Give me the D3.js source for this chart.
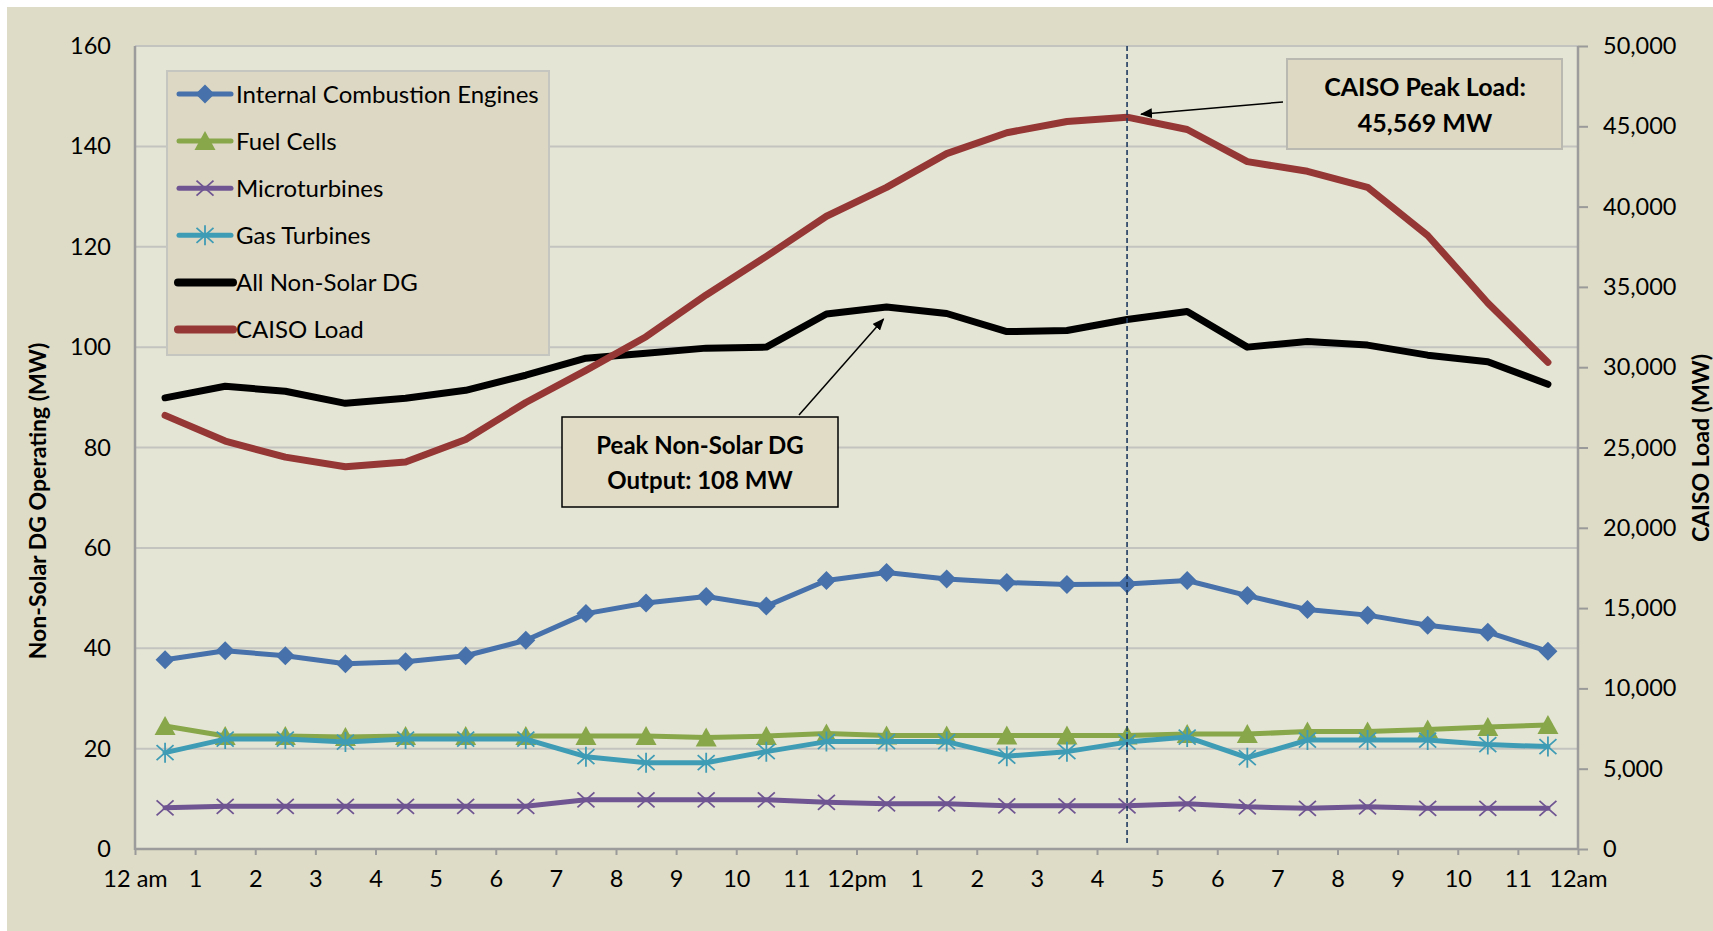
<!DOCTYPE html>
<html>
<head>
<meta charset="utf-8">
<script src="https://cdn.jsdelivr.net/npm/d3@7"></script>
<style>
  html, body { margin: 0; padding: 0; background: #ffffff; }
  svg { display: block; }
  text { font-family: Lato, "Open Sans", sans-serif; fill: #000; }
</style>
</head>
<body>
<svg id="chart" width="1713" height="931"></svg>
<script>
// ---------------- DATA ----------------
const hours = ["1","2","3","4","5","6","7","8","9","10","11","12",
               "13","14","15","16","17","18","19","20","21","22","23","24"];

const iceValues = [37.7, 39.5, 38.5, 36.9, 37.3, 38.5, 41.6, 46.9, 49.0, 50.3, 48.4, 53.5,
                   55.1, 53.8, 53.1, 52.7, 52.8, 53.5, 50.5, 47.7, 46.6, 44.6, 43.2, 39.4];
const fuelCellValues = [24.5, 22.5, 22.5, 22.3, 22.5, 22.5, 22.5, 22.5, 22.5, 22.2, 22.5, 23.0,
                        22.6, 22.6, 22.6, 22.6, 22.6, 22.9, 22.9, 23.4, 23.4, 23.8, 24.3, 24.7];
const microturbineValues = [8.2, 8.5, 8.5, 8.5, 8.5, 8.5, 8.5, 9.8, 9.8, 9.8, 9.8, 9.3,
                            9.0, 9.0, 8.6, 8.6, 8.6, 9.0, 8.4, 8.1, 8.4, 8.1, 8.1, 8.1];
const gasTurbineValues = [19.2, 21.9, 21.9, 21.3, 21.9, 21.9, 21.9, 18.4, 17.2, 17.2, 19.4, 21.4,
                          21.4, 21.4, 18.5, 19.4, 21.3, 22.3, 18.2, 21.7, 21.7, 21.7, 20.8, 20.4];
const allNonSolarValues = [89.9, 92.2, 91.2, 88.8, 89.8, 91.4, 94.4, 97.8, 98.8, 99.8, 100.0, 106.6,
                           108.0, 106.7, 103.1, 103.3, 105.5, 107.1, 100.0, 101.1, 100.4, 98.4, 97.1, 92.6];
const caisoLoadValues = [27000, 25400, 24400, 23800, 24100, 25500, 27800, 29800, 31900, 34500, 36900, 39400,
                         41200, 43300, 44600, 45300, 45569, 44800, 42800, 42200, 41200, 38200, 34000, 30300];

const xTickLabels = ["12 am","1","2","3","4","5","6","7","8","9","10","11","12pm",
                     "1","2","3","4","5","6","7","8","9","10","11","12am"];
const leftTicks = [0, 20, 40, 60, 80, 100, 120, 140, 160];
const rightTicks = [0, 5000, 10000, 15000, 20000, 25000, 30000, 35000, 40000, 45000, 50000];

const seriesNames = ["Internal Combustion Engines", "Fuel Cells", "Microturbines",
                     "Gas Turbines", "All Non-Solar  DG", "CAISO Load"];
const peakHourIndex = 16;   // hour 17 (4-5 pm), CAISO peak
const peakDgIndex = 12;     // hour 13, peak non-solar DG

// ---------------- LAYOUT ----------------
const W = 1713, H = 931;
const plot = { left: 135, right: 1578, top: 46, bottom: 849 };
const tickFont = "23.5px";

const svg = d3.select("#chart");

const x = d3.scaleBand().domain(hours).range([plot.left, plot.right]).padding(0);
const xEdge = d3.scaleLinear().domain([0, hours.length]).range([plot.left, plot.right]);
const yL = d3.scaleLinear().domain([0, 160]).range([plot.bottom, plot.top]);
const yR = d3.scaleLinear().domain([0, 50000]).range([plot.bottom, plot.top]);
const cx = (d, i) => x(hours[i]) + x.bandwidth() / 2;

// backgrounds
svg.append("rect").attr("x", 0).attr("y", 0).attr("width", W).attr("height", H).attr("fill", "#ffffff");
svg.append("rect").attr("x", 7).attr("y", 7).attr("width", W - 7).attr("height", H - 7).attr("fill", "#dedcc6");
svg.append("rect").attr("x", plot.left).attr("y", plot.top)
   .attr("width", plot.right - plot.left).attr("height", plot.bottom - plot.top)
   .attr("fill", "#e5e5d5");

// gridlines
svg.append("g").selectAll("line").data(leftTicks.filter(d => d > 0)).join("line")
  .attr("x1", plot.left).attr("x2", plot.right)
  .attr("y1", d => yL(d)).attr("y2", d => yL(d))
  .attr("stroke", "#c3c3c0").attr("stroke-width", 2);

// left axis
const leftAxis = d3.axisLeft(yL).tickValues(leftTicks).tickSize(0).tickPadding(24);
const gL = svg.append("g").attr("transform", `translate(${plot.left},0)`).call(leftAxis);
gL.select(".domain").remove();
gL.selectAll("text").style("font-size", tickFont).style("font-family", "Lato, sans-serif").attr("fill", "#000");

// right axis
const rightAxis = d3.axisRight(yR).tickValues(rightTicks).tickSize(10).tickPadding(15)
  .tickFormat(d3.format(","));
const gR = svg.append("g").attr("transform", `translate(${plot.right},0)`).call(rightAxis);
gR.select(".domain").remove();
gR.selectAll("line").attr("stroke", "#9a9a9a").attr("stroke-width", 2);
gR.selectAll("text").style("font-size", tickFont).style("font-family", "Lato, sans-serif").attr("fill", "#000");

// bottom axis (ticks at hour boundaries)
const bottomAxis = d3.axisBottom(xEdge).tickValues(d3.range(xTickLabels.length))
  .tickSize(6).tickPadding(15).tickFormat((d, i) => xTickLabels[i]);
const gB = svg.append("g").attr("transform", `translate(0,${plot.bottom})`).call(bottomAxis);
gB.select(".domain").remove();
gB.selectAll("line").attr("stroke", "#9a9a9a").attr("stroke-width", 2);
gB.selectAll("text").style("font-size", tickFont).style("font-family", "Lato, sans-serif").attr("fill", "#000");

// axis lines
const axisColor = "#9c9c9c";
svg.append("line").attr("x1", plot.left).attr("x2", plot.left).attr("y1", plot.top).attr("y2", plot.bottom + 1)
   .attr("stroke", axisColor).attr("stroke-width", 2.5);
svg.append("line").attr("x1", plot.right).attr("x2", plot.right).attr("y1", plot.top).attr("y2", plot.bottom + 1)
   .attr("stroke", axisColor).attr("stroke-width", 2.5);
svg.append("line").attr("x1", plot.left).attr("x2", plot.right).attr("y1", plot.bottom).attr("y2", plot.bottom)
   .attr("stroke", axisColor).attr("stroke-width", 2.5);

// axis titles
svg.append("text")
  .attr("transform", `translate(46,501) rotate(-90)`)
  .attr("text-anchor", "middle")
  .style("font-size", "23px").style("font-weight", "bold")
  .text("Non-Solar DG Operating (MW)");
svg.append("text")
  .attr("transform", `translate(1709,448) rotate(-90)`)
  .attr("text-anchor", "middle")
  .style("font-size", "23px").style("font-weight", "bold")
  .text("CAISO Load (MW)");

// ---------------- SERIES ----------------
const markers = {
  diamond: (g, color) => g.append("path").attr("d", "M0,-9.5L9.5,0L0,9.5L-9.5,0Z").attr("fill", color),
  triangle: (g, color) => g.append("path").attr("d", "M0,-10L10.5,9L-10.5,9Z").attr("fill", color),
  cross: (g, color) => g.append("path").attr("d", "M-8.5,-7.5L8.5,7.5M-8.5,7.5L8.5,-7.5").attr("stroke", color).attr("stroke-width", 1.8).attr("fill", "none"),
  star: (g, color) => g.append("path").attr("d", "M-8.5,-7.5L8.5,7.5M-8.5,7.5L8.5,-7.5M0,-10L0,10").attr("stroke", color).attr("stroke-width", 1.8).attr("fill", "none")
};

const series = [
  { name: seriesNames[0], values: iceValues, color: "#4671aa", width: 5, marker: "diamond", scale: yL },
  { name: seriesNames[1], values: fuelCellValues, color: "#88a74a", width: 5, marker: "triangle", scale: yL },
  { name: seriesNames[2], values: microturbineValues, color: "#6f5592", width: 5, marker: "cross", scale: yL },
  { name: seriesNames[3], values: gasTurbineValues, color: "#3f9cb5", width: 5, marker: "star", scale: yL },
  { name: seriesNames[4], values: allNonSolarValues, color: "#000000", width: 7, marker: null, scale: yL },
  { name: seriesNames[5], values: caisoLoadValues, color: "#953735", width: 7, marker: null, scale: yR }
];

series.forEach(s => {
  const line = d3.line().x((d, i) => cx(d, i)).y(d => s.scale(d));
  svg.append("path").datum(s.values)
    .attr("d", line).attr("fill", "none")
    .attr("stroke", s.color).attr("stroke-width", s.width)
    .attr("stroke-linejoin", "round").attr("stroke-linecap", "round");
  if (s.marker) {
    const mg = svg.append("g");
    s.values.forEach((v, i) => {
      const g = mg.append("g").attr("transform", `translate(${cx(v, i)},${s.scale(v)})`);
      markers[s.marker](g, s.color);
    });
  }
});

// vertical dashed line at CAISO peak
const peakX = x(hours[peakHourIndex]) + x.bandwidth() / 2;
svg.append("line").attr("x1", peakX).attr("x2", peakX).attr("y1", plot.top).attr("y2", plot.bottom - 3)
  .attr("stroke", "#1f3a5f").attr("stroke-width", 1.6).attr("stroke-dasharray", "5,3");

// ---------------- LEGEND ----------------
const legend = svg.append("g");
legend.append("rect").attr("x", 167).attr("y", 71).attr("width", 382).attr("height", 284)
  .attr("fill", "#ddd8c4").attr("stroke", "#c6c6c0").attr("stroke-width", 2);
series.forEach((s, i) => {
  const ly = 94 + i * 47.1;
  const thick = s.marker ? 5 : 8;
  legend.append("line").attr("x1", s.marker ? 179 : 178).attr("x2", s.marker ? 231 : 233)
    .attr("y1", ly).attr("y2", ly)
    .attr("stroke", s.color).attr("stroke-width", thick).attr("stroke-linecap", "round");
  if (s.marker) {
    const g = legend.append("g").attr("transform", `translate(205,${ly})`);
    markers[s.marker](g, s.color);
  }
  legend.append("text").attr("x", 236).attr("y", ly).attr("dy", "0.36em")
    .style("font-size", "24px").text(s.name);
});

// ---------------- ANNOTATIONS ----------------
const defs = svg.append("defs");
defs.append("marker").attr("id", "arrow").attr("viewBox", "0 0 12 10")
  .attr("refX", 11).attr("refY", 5).attr("markerWidth", 12).attr("markerHeight", 10)
  .attr("markerUnits", "userSpaceOnUse").attr("orient", "auto")
  .append("path").attr("d", "M0,0L12,5L0,10Z").attr("fill", "#000");

// Peak DG annotation
const dgPeakX = x(hours[peakDgIndex]) + x.bandwidth() / 2;
const dgPeakY = yL(allNonSolarValues[peakDgIndex]);
svg.append("line").attr("x1", 799).attr("y1", 415).attr("x2", dgPeakX - 3).attr("y2", dgPeakY + 12)
  .attr("stroke", "#000").attr("stroke-width", 1.5).attr("marker-end", "url(#arrow)");
svg.append("rect").attr("x", 562).attr("y", 417).attr("width", 276).attr("height", 90)
  .attr("fill", "#e0dcc6").attr("stroke", "#000").attr("stroke-width", 1.5);
svg.append("text").attr("x", 700).attr("y", 445).attr("dy", "0.36em").attr("text-anchor", "middle")
  .style("font-size", "24px").style("font-weight", "bold").text("Peak Non-Solar DG");
svg.append("text").attr("x", 700).attr("y", 480).attr("dy", "0.36em").attr("text-anchor", "middle")
  .style("font-size", "24px").style("font-weight", "bold").text("Output: 108  MW");

// CAISO peak annotation
const loadPeakY = yR(caisoLoadValues[peakHourIndex]);
svg.append("line").attr("x1", 1283).attr("y1", 102).attr("x2", peakX + 14).attr("y2", loadPeakY - 3)
  .attr("stroke", "#000").attr("stroke-width", 1.5).attr("marker-end", "url(#arrow)");
svg.append("rect").attr("x", 1287).attr("y", 59).attr("width", 275).attr("height", 90)
  .attr("fill", "#ddd9c3").attr("stroke", "#b9b9b2").attr("stroke-width", 2);
svg.append("text").attr("x", 1425).attr("y", 87).attr("dy", "0.36em").attr("text-anchor", "middle")
  .style("font-size", "25px").style("font-weight", "bold").text("CAISO Peak Load:");
svg.append("text").attr("x", 1425).attr("y", 123).attr("dy", "0.36em").attr("text-anchor", "middle")
  .style("font-size", "25px").style("font-weight", "bold").text("45,569 MW");
</script>
</body>
</html>
